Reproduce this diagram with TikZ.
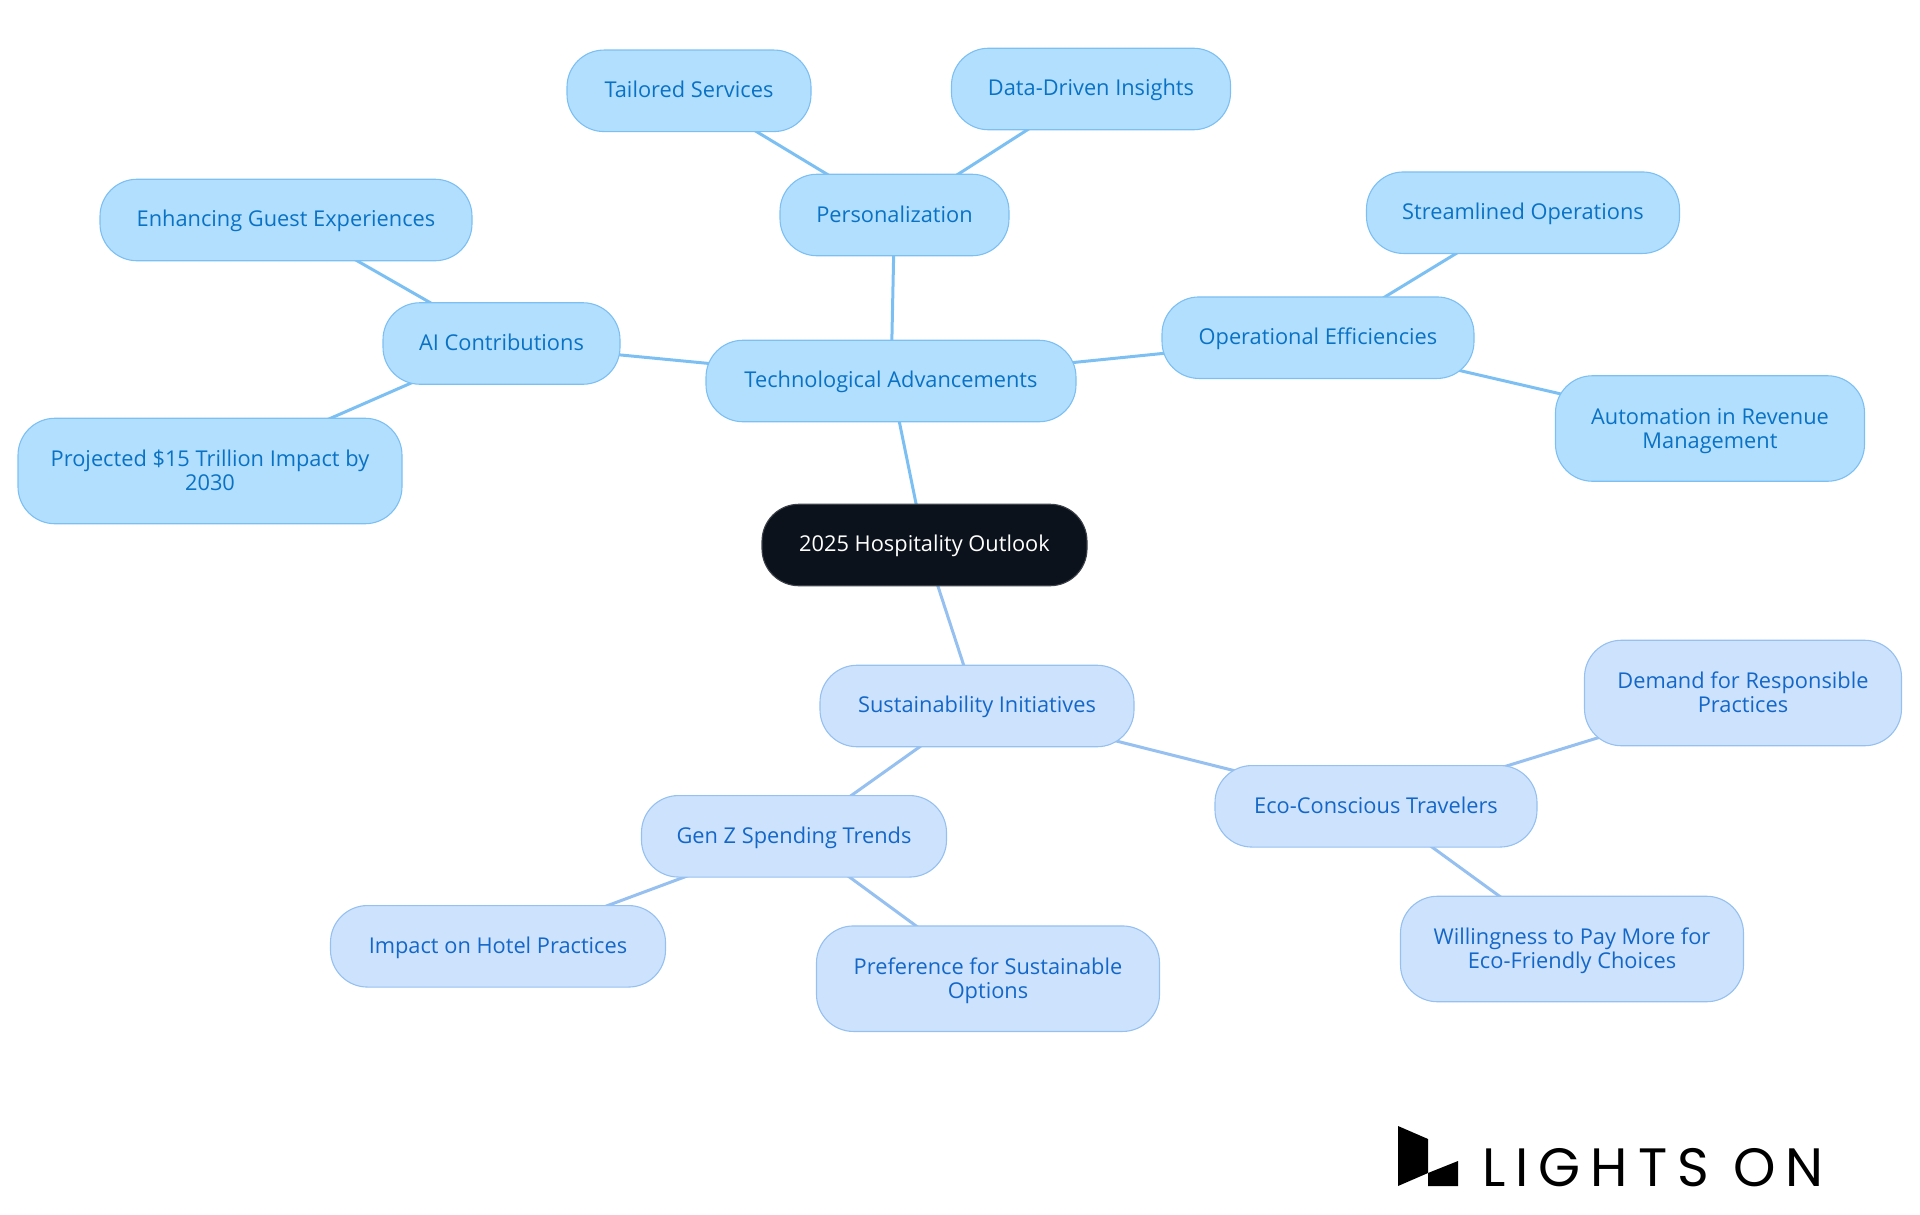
\documentclass[tikz,border=0pt]{standalone}
\usepackage{fontspec}
\setmainfont{Open Sans}
\newfontfamily\logofont[LetterSpace=18.5]{Poppins}
\usetikzlibrary{backgrounds}
\definecolor{techfill}{HTML}{B3DFFF}
\definecolor{techedge}{HTML}{7CC0F3}
\definecolor{techtext}{HTML}{0A72C4}
\definecolor{susfill}{HTML}{CDE3FD}
\definecolor{susedge}{HTML}{95C0F0}
\definecolor{sustext}{HTML}{1467C8}
\definecolor{rootfill}{HTML}{0B121B}
\newcommand\toprule{\rule{0pt}{20.5pt}}
\tikzset{
  mapbox/.style={draw,line width=1.1pt,rounded corners=37pt,align=center,inner sep=0pt,
    font=\fontsize{21.8}{24}\selectfont,minimum height=81.5pt,
    execute at begin node={\rule{0pt}{19pt}},
    execute at end node={\rule[-5pt]{0pt}{5pt}}},
  tall/.style={minimum height=105.5pt},
  techbox/.style={mapbox,fill=techfill,draw=techedge,text=techtext},
  susbox/.style={mapbox,fill=susfill,draw=susedge,text=sustext},
  rootbox/.style={mapbox,fill=rootfill,draw=rootfill!80!white,text=white},
  techline/.style={draw=techedge,line width=3pt},
  susline/.style={draw=susedge,line width=3pt},
}
\begin{document}
\begin{tikzpicture}[x=1pt,y=-1pt]
\useasboundingbox (0,0) rectangle (1920,1215);
\node[rootbox,minimum width=325pt] (root) at (924.5,545) {2025 Hospitality Outlook};
\node[techbox,minimum width=370pt] (tech) at (891,381) {Technological Advancements};
\node[techbox,minimum width=229pt] (pers) at (894.5,215) {Personalization};
\node[techbox,minimum width=244pt] (tail) at (689,90.8) {Tailored Services};
\node[techbox,minimum width=279pt] (data) at (1091,89) {Data-Driven Insights};
\node[techbox,minimum width=237pt] (ai) at (501.5,343.5) {AI Contributions};
\node[techbox,minimum width=372pt] (enh) at (286,220) {Enhancing Guest Experiences};
\node[techbox,tall,minimum width=384pt] (proj) at (210,471) {\toprule Projected \$15 Trillion Impact by\\2030};
\node[techbox,minimum width=312pt] (oper) at (1318,337.7) {Operational Efficiencies};
\node[techbox,minimum width=313pt] (stream) at (1523,212.7) {Streamlined Operations};
\node[techbox,tall,minimum width=309pt] (auto) at (1710,428.5) {\toprule Automation in Revenue\\Management};
\node[susbox,minimum width=314pt] (sus) at (977,706) {Sustainability Initiatives};
\node[susbox,minimum width=322pt] (eco) at (1376,806.3) {Eco-Conscious Travelers};
\node[susbox,tall,minimum width=317pt] (dem) at (1743,693) {\toprule Demand for Responsible\\Practices};
\node[susbox,tall,minimum width=343pt] (will) at (1572,949) {\toprule Willingness to Pay More for\\Eco-Friendly Choices};
\node[susbox,minimum width=305pt] (genz) at (794,836.3) {Gen Z Spending Trends};
\node[susbox,minimum width=335pt] (imp) at (498,946.3) {Impact on Hotel Practices};
\node[susbox,tall,minimum width=343pt] (pref) at (988,978.7) {\toprule Preference for Sustainable\\Options};
\begin{scope}[on background layer]
\draw[techline] (root.center) -- (tech.center);
\draw[techline] (tech.center) -- (pers.center);
\draw[techline] (pers.center) -- (tail.center);
\draw[techline] (pers.center) -- (data.center);
\draw[techline] (tech.center) -- (ai.center);
\draw[techline] (ai.center) -- (enh.center);
\draw[techline] (ai.center) -- (proj.center);
\draw[techline] (tech.center) -- (oper.center);
\draw[techline] (oper.center) -- (stream.center);
\draw[techline] (oper.center) -- (auto.center);
\draw[susline] (root.center) -- (sus.center);
\draw[susline] (sus.center) -- (eco.center);
\draw[susline] (eco.center) -- (dem.center);
\draw[susline] (eco.center) -- (will.center);
\draw[susline] (sus.center) -- (genz.center);
\draw[susline] (genz.center) -- (imp.center);
\draw[susline] (genz.center) -- (pref.center);
\end{scope}
\fill[black] (1398,1126) -- (1428,1139) -- (1428,1173) -- (1398,1186) -- cycle;
\fill[black] (1428,1173) -- (1458,1161) -- (1458,1186) -- (1428,1186) -- cycle;
\node[anchor=base west,inner sep=0pt,font={\logofont\fontsize{54}{54}\selectfont}] (logo) at (1482,1186) {LIGHTS ON};
\end{tikzpicture}
\end{document}
